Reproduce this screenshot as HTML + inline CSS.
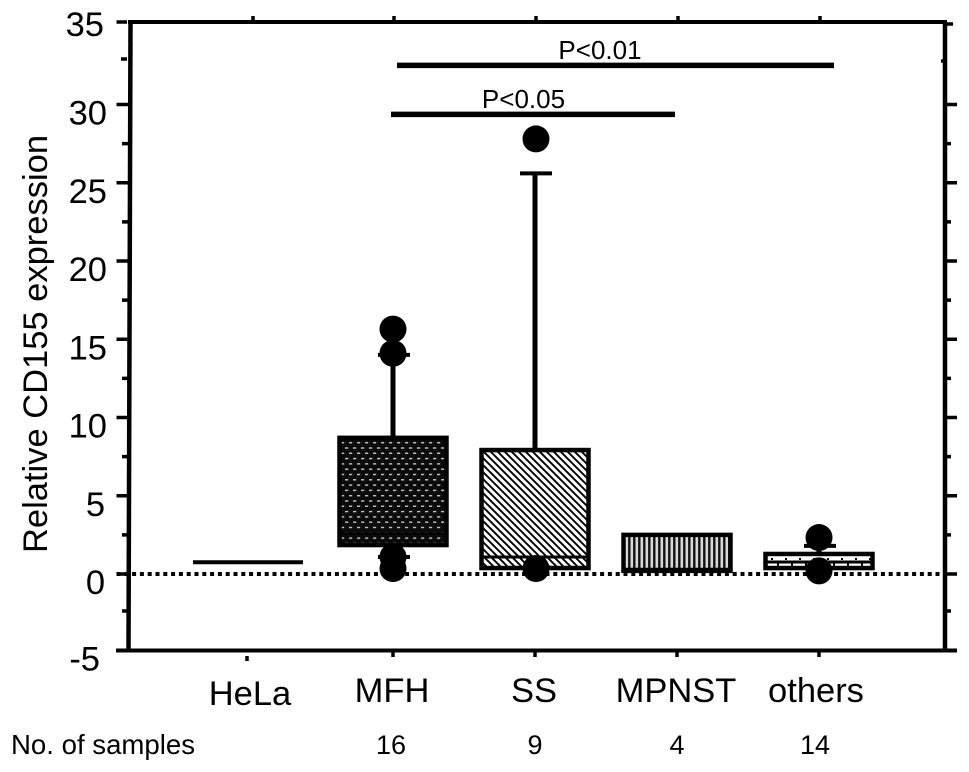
<!DOCTYPE html>
<html>
<head>
<meta charset="utf-8">
<title>Relative CD155 expression</title>
<style>
html,body{margin:0;padding:0;background:#fff;}
svg{display:block;}
text{font-family:"Liberation Sans",Arial,sans-serif;fill:#000;}
</style>
</head>
<body>
<svg id="chart" xmlns="http://www.w3.org/2000/svg" width="969" height="772" viewBox="0 0 969 772">
<defs>
<pattern id="p-mfh" width="8" height="10.6" patternUnits="userSpaceOnUse" patternTransform="translate(340 441)">
<rect width="8" height="10.6" fill="#0b0b0b"/>
<rect x="1" y="1" width="3.2" height="1.4" fill="#c4c4c4"/>
<rect x="5" y="6.3" width="3" height="1.4" fill="#c4c4c4"/>
<rect x="0" y="6.3" width="0.3" height="1.4" fill="#c4c4c4"/>
</pattern>
<pattern id="p-ss" width="7" height="7" patternUnits="userSpaceOnUse" patternTransform="translate(482 450)">
<rect width="7" height="7" fill="#fff"/>
<path d="M-2 -2 L9 9 M-9 -2 L2 9 M5 -2 L16 9" stroke="#000" stroke-width="1.9"/>
</pattern>
<pattern id="p-mpnst" width="5" height="10" patternUnits="userSpaceOnUse" patternTransform="translate(624 535)">
<rect width="5" height="10" fill="#111"/>
<rect x="1.5" width="2.6" height="10" fill="#d8d8d8"/>
</pattern>
<pattern id="p-others" width="14" height="14" patternUnits="userSpaceOnUse" patternTransform="translate(766 553)">
<rect width="14" height="14" fill="#fff"/>
<rect x="5" y="5" width="2" height="2" fill="#000"/>
<rect x="11" y="10" width="2" height="4" fill="#000"/>
</pattern>
</defs>
<g id="layer"></g>
</svg>
<script>
var categories = ["HeLa", "MFH", "SS", "MPNST", "others"];
var sampleCounts = ["", "16", "9", "4", "14"];
var q1Values = [null, 1.85, 0.38, 0.2, 0.38];
var medianValues = [0.75, 2.6, 1.09, 0.3, 0.77];
var q3Values = [null, 8.7, 7.92, 2.5, 1.28];
var whiskerHigh = [null, 14.0, 25.6, null, 1.8];
var whiskerLow = [null, 1.09, null, null, null];
var outlierValues = [[], [15.65, 14.1, 1.09, 0.35], [27.8, 0.35], [], [2.33, 0.2]];
var yTickValues = [35, 30, 25, 20, 15, 10, 5, 0, -5];
var yTickLabels = ["35", "30", "25", "20", "15", "10", "5", "0", "-5"];
var yMinorValues = [32.5, 27.5, 22.5, 17.5, 12.5, 7.5, 2.5, -2.5];
var boxPatterns = [null, "p-mfh", "p-ss", "p-mpnst", "p-others"];
var significance = [
  {label: "P<0.01", from: 1, to: 4, value: 32.5},
  {label: "P<0.05", from: 1, to: 3, value: 29.37}
];

function yScale(v) { return 574 - v * 15.65; }
function xScale(i) { return i === 0 ? 247 : 251 + i * 142; }
function tickScale(v) {
  if (v === 35) { return 22; }
  if (v === 32.5) { return 59; }
  if (v === -5) { return 650.5; }
  if (v === -2.5) { return 611; }
  return yScale(v);
}

var layer = document.getElementById('layer');
var NS = 'http://www.w3.org/2000/svg';
function make(tag, attrs, text) {
  var el = document.createElementNS(NS, tag);
  for (var k in attrs) { el.setAttribute(k, attrs[k]); }
  if (text !== undefined) { el.textContent = text; }
  layer.appendChild(el);
  return el;
}
function line(x1, y1, x2, y2, w) {
  return make('line', {x1: x1, y1: y1, x2: x2, y2: y2, stroke: '#000', 'stroke-width': w});
}

var el;
var axisTop = 22, axisBottom = 650.5, axisRight = 945;

// frame
el = line(128, axisTop, 947, axisTop, 4);


el = line(116, axisBottom, 957, axisBottom, 4);


el = line(130.5, axisTop, 128.5, axisBottom, 4.5);


el = line(axisRight, axisTop, axisRight, axisBottom, 4.5);



// y ticks
yTickValues.forEach(function (v, i) {
  var y = tickScale(v);
  var leftEnd = (v === 35) ? 127 : 129;
  el = line(116.5, y, leftEnd, y, 3.5);
  
  
  var rightY = (v === 35) ? y + 2 : y;
  var rightEnd = (v === 35) ? 953 : 957;
  el = line(axisRight, rightY, rightEnd, rightY, 3.5);
  
  
  var labelRight = (v === 35) ? 104 : (v === -5 ? 100 : (v === 5 || v === 0 ? 105 : 107));
  var baseline = (v === 35) ? 36 : y + 20;
  el = make('text', {x: labelRight, y: baseline, 'text-anchor': 'end', 'font-size': 34.5}, yTickLabels[i]);
  
  
});
yMinorValues.forEach(function (v) {
  var y = tickScale(v);
  var isTop = (v === 32.5);
  el = line(isTop ? 121 : 122, y, isTop ? 127 : 129, y, 3.5);
  
  
  el = line(isTop ? 941 : axisRight, isTop ? 61 : y, isTop ? axisRight : 951, isTop ? 61 : y, 3.5);
  
  
});

// zero line
el = line(116.5, yScale(0), axisRight, yScale(0), 4);
el.setAttribute('stroke-dasharray', '4 3.8');



// categories
var labelX = [250, 392, 534, 676, 816];
var labelY = [705, 702, 702, 702, 702];
var countShift = [0, -2, 0, 0, -4];
categories.forEach(function (c, i) {
  var x = xScale(i);
  el = line(x, i === 0 ? 656 : 650, x, i === 0 ? 661 : 657, 3.5);
  
  
  el = line(x + (i === 0 ? 6 : 1), 16, x + (i === 0 ? 6 : 1), axisTop, 3.5);
  
  
  el = make('text', {x: labelX[i], y: labelY[i], 'text-anchor': 'middle', 'font-size': 34.5}, c);
  
  
  if (sampleCounts[i]) {
    el = make('text', {x: x + countShift[i], y: 754, 'text-anchor': 'middle', 'font-size': 27}, sampleCounts[i]);
    
    
  }
});

// boxes
var halfBox = 53.5;
categories.forEach(function (c, i) {
  var x = xScale(i);
  if (q1Values[i] === null) {
    el = line(x - 54, yScale(medianValues[i]), x + 56, yScale(medianValues[i]), 4);
    
    
    return;
  }
  if (whiskerHigh[i] !== null) {
    el = line(x, yScale(q3Values[i]), x, yScale(whiskerHigh[i]), 5);
    
    
    el = line(x - 15, yScale(whiskerHigh[i]), x + 17, yScale(whiskerHigh[i]), 4);
    
    
  }
  if (whiskerLow[i] !== null) {
    el = line(x - 15, yScale(whiskerLow[i]), x + 17, yScale(whiskerLow[i]), 4);
    
    
  }
  el = make('rect', {
    x: x - halfBox, y: yScale(q3Values[i]), width: halfBox * 2,
    height: yScale(q1Values[i]) - yScale(q3Values[i]),
    fill: 'url(#' + boxPatterns[i] + ')', stroke: '#000', 'stroke-width': 4.5
  });
  
  
  el = line(x - halfBox, yScale(medianValues[i]), x + halfBox, yScale(medianValues[i]), i === 1 ? 2 : 3);
  
  
});

// outliers
outlierValues.forEach(function (vals, i) {
  vals.forEach(function (v) {
    el = make('circle', {cx: xScale(i) + (i === 2 ? 1 : 0), cy: yScale(v), r: 13.5, fill: '#000'});
    
    
  });
});

// significance bars
significance.forEach(function (s, i) {
  var x1 = xScale(s.from) + (i === 0 ? 4 : -2);
  var x2 = xScale(s.to) + (i === 0 ? 15 : -2);
  var y = yScale(s.value);
  el = line(x1, y, x2, y, 5.5);
  
  
  el = make('text', {x: i === 0 ? 600 : 523.5, y: y - 6.4, 'text-anchor': 'middle', 'font-size': 26}, s.label);
  
  
});

// titles
el = make('text', {x: 0, y: 0, 'text-anchor': 'middle', 'font-size': 34.5, transform: 'translate(47 344) rotate(-90)'}, 'Relative CD155 expression');


el = make('text', {x: 11, y: 754, 'font-size': 27.6}, 'No. of samples');


</script>
</body>
</html>
